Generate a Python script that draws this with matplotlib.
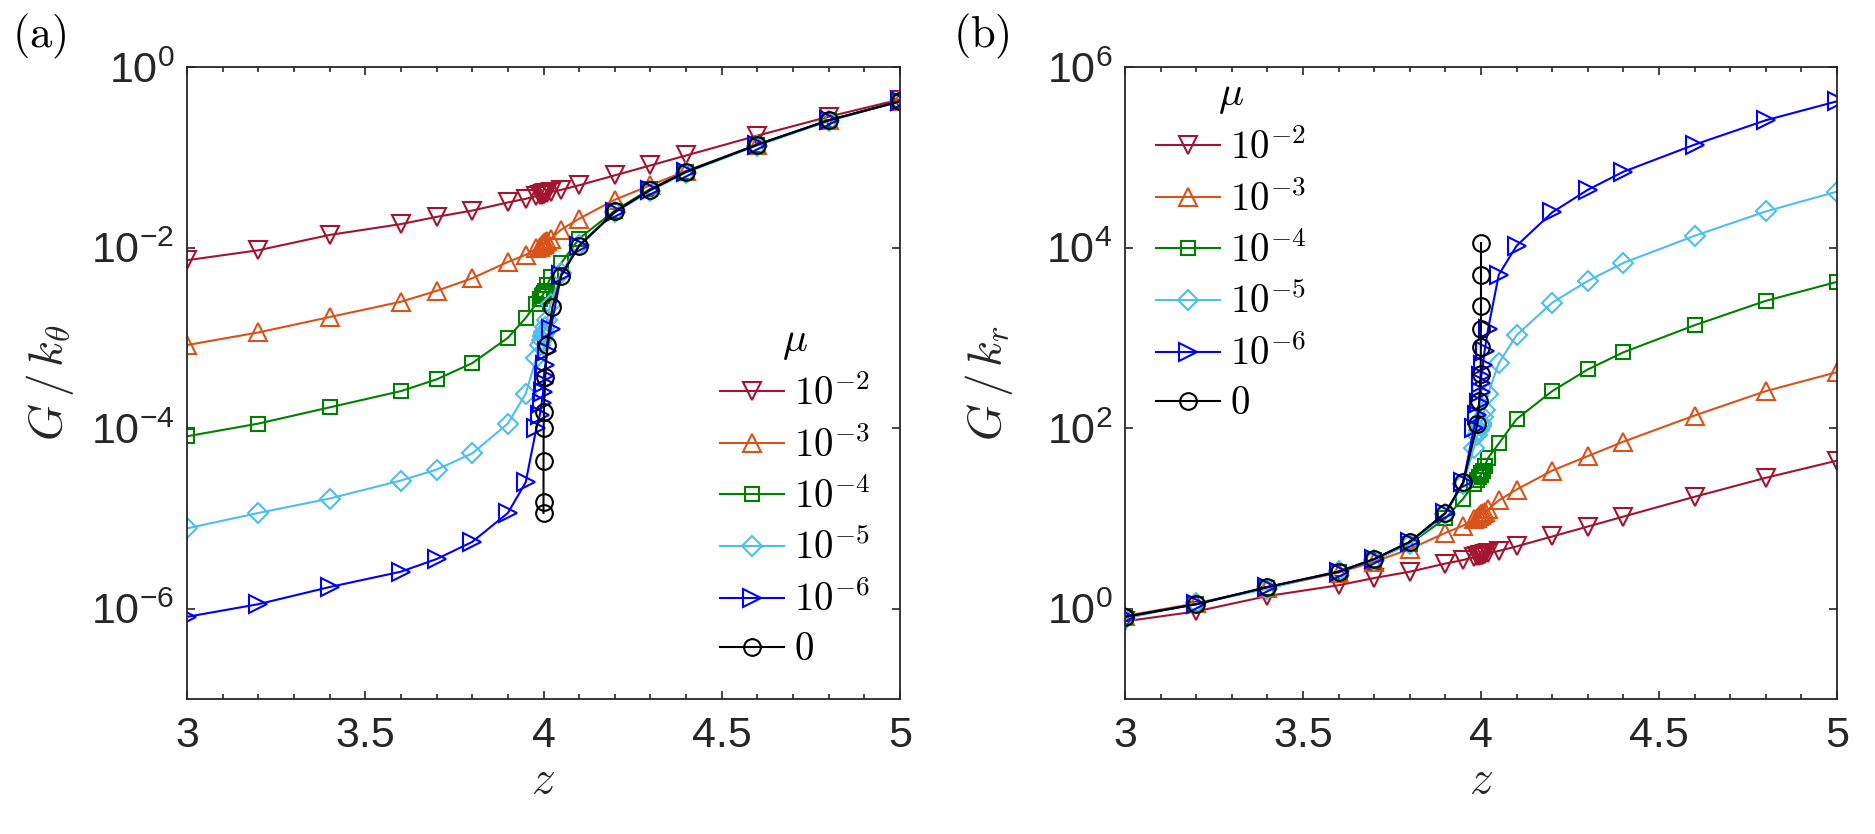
import numpy as np
import matplotlib
matplotlib.use("Agg")
import matplotlib.pyplot as plt
from matplotlib.ticker import FixedLocator, MultipleLocator, FuncFormatter

plt.rcParams['font.family'] = ['Liberation Sans', 'DejaVu Sans']
plt.rcParams['mathtext.fontset'] = 'cm'

# series: mu = 1e-2, 1e-3, 1e-4, 1e-5, 1e-6, 0
mu_labels = [r'$10^{-2}$', r'$10^{-3}$', r'$10^{-4}$', r'$10^{-5}$', r'$10^{-6}$', r'$0$']
colors = ['#A2142F', '#D95319', '#008000', '#4DBEEE', '#0000FF', '#000000']
markers = ['v', '^', 's', 'D', '>', 'o']
msizes = [13.5, 13.5, 10, 10, 13.5, 12]

# coordination number z used for the finite-mu runs
z_mu = [3.0, 3.2, 3.4, 3.6, 3.7, 3.8, 3.9, 3.95, 3.98, 3.99, 3.995, 3.999, 4.0,
        4.001, 4.005, 4.01, 4.02, 4.05, 4.1, 4.2, 4.3, 4.4, 4.6, 4.8, 5.0]

# (a) log10(G/k_theta)
a_mu2 = [-2.14, -2.03, -1.86, -1.74, -1.66, -1.59, -1.50, -1.46, -1.43, -1.42, -1.415, -1.41, -1.41,
         -1.405, -1.40, -1.395, -1.385, -1.36, -1.31, -1.20, -1.09, -0.98, -0.76, -0.55, -0.36]
a_mu3 = [-3.08, -2.94, -2.77, -2.60, -2.48, -2.34, -2.16, -2.08, -2.01, -1.99, -1.97, -1.96, -1.955,
         -1.95, -1.94, -1.93, -1.90, -1.80, -1.68, -1.47, -1.31, -1.15, -0.86, -0.59, -0.38]
a_mu4 = [-4.09, -3.95, -3.77, -3.59, -3.46, -3.28, -3.00, -2.78, -2.62, -2.57, -2.54, -2.52, -2.51,
         -2.50, -2.48, -2.42, -2.33, -2.17, -1.90, -1.59, -1.35, -1.16, -0.86, -0.59, -0.38]
a_mu5 = [-5.11, -4.94, -4.78, -4.58, -4.46, -4.28, -3.95, -3.62, -3.22, -3.08, -3.02, -2.98, -2.96,
         -2.94, -2.88, -2.80, -2.62, -2.28, -1.97, -1.61, -1.37, -1.17, -0.87, -0.60, -0.38]
a_mu6 = [-6.09, -5.95, -5.76, -5.59, -5.45, -5.26, -4.94, -4.60, -4.00, -3.85, -3.72, -3.60, -3.50,
         -3.42, -3.30, -3.15, -2.90, -2.30, -1.98, -1.61, -1.36, -1.16, -0.86, -0.59, -0.38]
z_a0 = [4.00001, 4.00002, 4.0001, 4.0005, 4.001, 4.005, 4.01, 4.025, 4.05, 4.1,
        4.2, 4.3, 4.4, 4.6, 4.8, 5.0]
a_mu0 = [-4.94, -4.82, -4.36, -4.00, -3.82, -3.43, -3.08, -2.66, -2.31, -1.98,
         -1.60, -1.36, -1.16, -0.86, -0.59, -0.38]

# (b) log10(G/k_r)
b_mu2 = [-0.14, -0.03, 0.14, 0.26, 0.34, 0.41, 0.50, 0.54, 0.57, 0.58, 0.585, 0.59, 0.59,
         0.595, 0.60, 0.605, 0.615, 0.64, 0.69, 0.80, 0.91, 1.02, 1.24, 1.45, 1.64]
b_mu3 = [-0.08, 0.06, 0.23, 0.40, 0.52, 0.66, 0.84, 0.92, 0.99, 1.01, 1.03, 1.04, 1.045,
         1.05, 1.06, 1.07, 1.10, 1.20, 1.32, 1.53, 1.69, 1.85, 2.14, 2.41, 2.62]
b_mu4 = [-0.09, 0.05, 0.23, 0.41, 0.54, 0.72, 1.00, 1.22, 1.38, 1.43, 1.46, 1.48, 1.49,
         1.50, 1.52, 1.58, 1.67, 1.83, 2.10, 2.41, 2.65, 2.84, 3.14, 3.41, 3.62]
b_mu5 = [-0.11, 0.06, 0.22, 0.42, 0.54, 0.72, 1.05, 1.38, 1.78, 1.92, 1.98, 2.02, 2.04,
         2.06, 2.12, 2.20, 2.38, 2.72, 3.03, 3.39, 3.63, 3.83, 4.13, 4.40, 4.62]
b_mu6 = [-0.09, 0.05, 0.24, 0.41, 0.55, 0.74, 1.06, 1.40, 2.00, 2.15, 2.28, 2.40, 2.50,
         2.58, 2.70, 2.85, 3.10, 3.70, 4.02, 4.39, 4.64, 4.84, 5.14, 5.41, 5.62]
z_b0 = [3.0, 3.2, 3.4, 3.6, 3.7, 3.8, 3.9, 3.95, 3.99, 3.995, 3.999, 3.9995,
        3.9999, 3.99995, 3.99998, 3.99999]
b_mu0 = [-0.09, 0.05, 0.24, 0.41, 0.55, 0.74, 1.06, 1.40, 2.05, 2.30, 2.60, 2.90,
         3.10, 3.35, 3.70, 4.05]

panel_a = [a_mu2, a_mu3, a_mu4, a_mu5, a_mu6]
panel_b = [b_mu2, b_mu3, b_mu4, b_mu5, b_mu6]

axcol = '#262626'
fig = plt.figure(figsize=(18.75, 8.34), dpi=100)
ax_a = fig.add_axes([187/1875, 1-699/834, 713/1875, 632/834])
ax_b = fig.add_axes([1125/1875, 1-699/834, 712/1875, 632/834])


def sup_fmt(v, pos):
    e = int(round(np.log10(v)))
    return r'$\mathregular{10^{%d}}$' % e


def draw(ax, series, z0, g0):
    handles = []
    for i, vals in enumerate(series):
        h, = ax.plot(z_mu, 10.0 ** np.array(vals), color=colors[i], marker=markers[i],
                     ms=msizes[i], mfc='none', mew=1.5, lw=1.5)
        handles.append(h)
    h, = ax.plot(z0, 10.0 ** np.array(g0), color=colors[5], marker=markers[5],
                 ms=msizes[5], mfc='none', mew=1.5, lw=1.5)
    handles.append(h)
    ax.set_yscale('log')
    ax.set_xlim(3, 5)
    ax.xaxis.set_major_locator(MultipleLocator(0.5))
    ax.xaxis.set_minor_locator(MultipleLocator(0.1))
    ax.xaxis.set_major_formatter(FuncFormatter(lambda v, p: ('%g' % v)))
    ax.yaxis.set_minor_locator(FixedLocator([]))
    ax.yaxis.set_major_formatter(FuncFormatter(sup_fmt))
    ax.tick_params(which='both', direction='in', top=True, right=True, colors=axcol,
                   labelsize=31, width=1.2)
    ax.tick_params(which='major', length=6)
    ax.tick_params(which='minor', length=3.5)
    ax.tick_params(axis='x', pad=12)
    ax.tick_params(axis='y', pad=9)
    for s in ax.spines.values():
        s.set_color(axcol)
        s.set_linewidth(1.3)
    ax.set_xlabel(r'$z$', fontsize=34, color=axcol)
    ax.xaxis.set_label_coords(0.5, -0.095)
    return handles


ha = draw(ax_a, panel_a, z_a0, a_mu0)
ax_a.set_ylim(1e-7, 1e0)
ax_a.yaxis.set_major_locator(FixedLocator([1e-6, 1e-4, 1e-2, 1e0]))
ax_a.set_ylabel(r'$G\,/\,k_\theta$', fontsize=34, color=axcol)
ax_a.yaxis.set_label_coords(-0.155, 0.5)

hb = draw(ax_b, panel_b, z_b0, b_mu0)
ax_b.set_ylim(1e-1, 1e6)
ax_b.yaxis.set_major_locator(FixedLocator([1e0, 1e2, 1e4, 1e6]))
ax_b.set_ylabel(r'$G\,/\,k_r$', fontsize=34, color=axcol)
ax_b.yaxis.set_label_coords(-0.155, 0.5)

leg_kw = dict(title=r'$\mu$', frameon=False, fontsize=28, title_fontsize=30,
              handlelength=1.65, handletextpad=0.25, labelspacing=0.34,
              borderpad=0, borderaxespad=0, bbox_transform=fig.transFigure,
              loc='upper left')
ax_a.legend(ha, mu_labels, bbox_to_anchor=(720/1875, 1-320/834), **leg_kw)
ax_b.legend(hb, mu_labels, bbox_to_anchor=(1156/1875, 1-74/834), **leg_kw)

fig.text(12/1875, 1-12/834, r'$\mathrm{(a)}$', fontsize=32, va='top', ha='left')
fig.text(953/1875, 1-12/834, r'$\mathrm{(b)}$', fontsize=32, va='top', ha='left')

fig.savefig('out.png', dpi=100)
